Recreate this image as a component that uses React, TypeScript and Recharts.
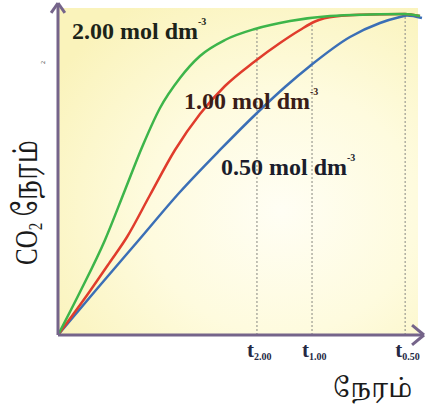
import { LineChart, Line, XAxis, YAxis, ReferenceLine } from "recharts";

// time axis (0..101) and CO2 volume (0..100.6)
const greenT = [0, 6.07, 12.97, 18.49, 23.45, 28.15, 33.66, 39.18, 46.08, 54.36, 64.02, 75.06, 86.09, 95.75, 99.89];
const greenV = [0, 13.03, 28.79, 43.94, 57.58, 68.79, 77.88, 84.55, 89.39, 92.73, 95.15, 96.67, 97.12, 97.27, 96.67];

const redT = [0, 8.83, 14.35, 19.04, 25.39, 32.28, 39.18, 46.08, 54.08, 61.26, 66.78, 70.92, 76.44, 86.09, 95.75, 99.89];
const redV = [0, 13.33, 22.12, 29.7, 42.42, 56.06, 66.97, 75.45, 82.73, 88.48, 92.42, 95.0, 96.52, 97.12, 97.27, 96.67];

const blueT = [0, 10.49, 22.08, 33.66, 44.7, 54.91, 62.64, 69.54, 80.57, 88.85, 94.37, 96.3, 100.44];
const blueV = [0, 13.64, 28.48, 43.33, 56.06, 67.27, 75.15, 81.52, 90.3, 94.55, 96.36, 96.82, 96.06];

const tickTimes = [54.9, 70.1, 95.8];
const tickSubs = ["2.00", "1.00", "0.50"];
const guideTops = [92.7, 94.8, 97.3];

const concLabels = ["2.00 mol dm", "1.00 mol dm", "0.50 mol dm"];

const toRows = (ts: number[], vs: number[]) => ts.map((t, i) => ({ t, v: vs[i] }));

const AXIS = "#75648a";
const SERIF = '"Liberation Serif", "Noto Serif Tamil", serif';

function TimeTick({ x, y, index }: { x?: number; y?: number; index?: number }) {
  const i = index ?? 0;
  return (
    <text x={(x ?? 0) - 10} y={(y ?? 0) + 14} fontFamily={SERIF} fontWeight="bold" fill="#252944">
      <tspan fontSize={21}>t</tspan>
      <tspan fontSize={10} dy={3}>{tickSubs[i]}</tspan>
    </text>
  );
}

export default function App() {
  const green = toRows(greenT, greenV);
  const red = toRows(redT, redV);
  const blue = toRows(blueT, blueV);

  return (
    <div style={{ position: "relative", width: 425, height: 410, background: "#fff" }}>
      <style>{`body{margin:0}`}</style>
      <div
        style={{
          position: "absolute",
          left: 58,
          top: 8,
          width: 360,
          height: 327,
          background:
            "radial-gradient(ellipse 75% 75% at 62% 62%, #fffef4 0%, #fefbde 50%, #faf3bb 100%)",
        }}
      />
      <div style={{ position: "absolute", left: 0, top: 0 }}>
        <LineChart width={425} height={410} margin={{ top: 3, right: 1, left: 58, bottom: 45 }}>
          <XAxis
            type="number"
            dataKey="t"
            domain={[0, 101]}
            ticks={tickTimes}
            axisLine={false}
            tickLine={false}
            tick={<TimeTick />}
            height={30}
            interval={0}
            allowDataOverflow
          />
          <YAxis type="number" dataKey="v" domain={[0, 100.6]} hide allowDataOverflow />

          {tickTimes.map((t, i) => (
            <ReferenceLine
              key={t}
              segment={[
                { x: t, y: 0 },
                { x: t, y: guideTops[i] },
              ]}
              stroke="#9b9b92"
              strokeWidth={1.2}
              strokeDasharray="2 2"
            />
          ))}

          <Line data={blue} dataKey="v" type="monotone" stroke="#3b6fb6" strokeWidth={2.5} dot={false} isAnimationActive={false} />
          <Line data={red} dataKey="v" type="monotone" stroke="#e03c2c" strokeWidth={2.5} dot={false} isAnimationActive={false} />
          <Line data={green} dataKey="v" type="monotone" stroke="#3db54a" strokeWidth={2.5} dot={false} isAnimationActive={false} />

          {/* axes with arrow heads */}
          <ReferenceLine segment={[{ x: 0, y: 0 }, { x: 0, y: 100.6 }]} stroke={AXIS} strokeWidth={3} ifOverflow="visible" />
          <ReferenceLine segment={[{ x: 0, y: 0 }, { x: 101, y: 0 }]} stroke={AXIS} strokeWidth={3} ifOverflow="visible" />
          <ReferenceLine segment={[{ x: -1.9, y: 97.6 }, { x: 0, y: 100.6 }]} stroke={AXIS} strokeWidth={3} ifOverflow="visible" />
          <ReferenceLine segment={[{ x: 1.9, y: 97.6 }, { x: 0, y: 100.6 }]} stroke={AXIS} strokeWidth={3} ifOverflow="visible" />
          <ReferenceLine segment={[{ x: 97.7, y: 3 }, { x: 101, y: 0 }]} stroke={AXIS} strokeWidth={3} ifOverflow="visible" />
          <ReferenceLine segment={[{ x: 97.7, y: -3 }, { x: 101, y: 0 }]} stroke={AXIS} strokeWidth={3} ifOverflow="visible" />
        </LineChart>
      </div>

      <svg
        width={425}
        height={410}
        style={{ position: "absolute", left: 0, top: 0, pointerEvents: "none" }}
        fontFamily={SERIF}
      >
        <text x={72} y={39} fontSize={24} fontWeight="bold" fill="#1c2419">
          {concLabels[0]}
          <tspan fontSize={10} dy={-14}>-3</tspan>
        </text>
        <text x={184} y={109} fontSize={24} fontWeight="bold" fill="#3a1d18">
          {concLabels[1]}
          <tspan fontSize={10} dy={-14}>-3</tspan>
        </text>
        <text x={221} y={175} fontSize={24} fontWeight="bold" fill="#1b1d2c">
          {concLabels[2]}
          <tspan fontSize={10} dy={-14}>-3</tspan>
        </text>

        <text x={333} y={397} fontSize={26} fill="#1a1a1a">நேரம்</text>

        <g transform="translate(37,265) rotate(-90) scale(1,1.3)">
          <text x={0} y={0} fontSize={25} fill="#1a1a1a">
            CO<tspan fontSize={15} dy={4}>2</tspan>
            <tspan dy={-4}> நேரம்</tspan>
          </text>
        </g>

        <text x={0} y={0} fontSize={6} fill="#333" transform="translate(45,64) rotate(-90)">2</text>
      </svg>
    </div>
  );
}
